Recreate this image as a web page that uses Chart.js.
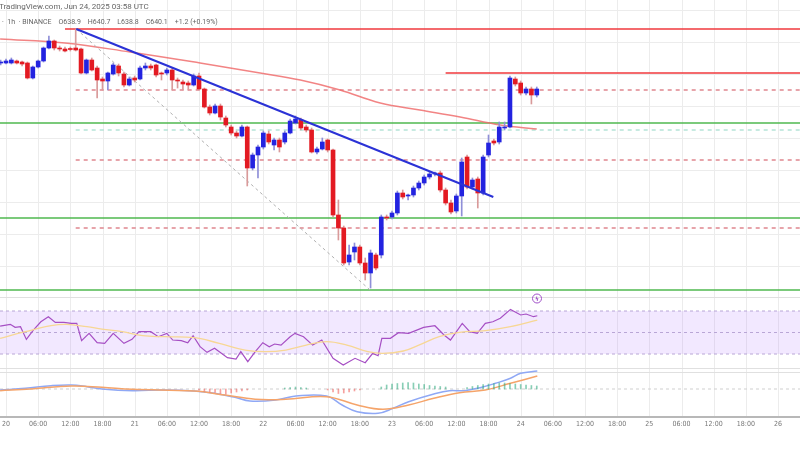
<!DOCTYPE html>
<html>
<head>
<meta charset="utf-8">
<script src="https://cdn.jsdelivr.net/npm/chart.js@4"></script>
<style>
  html, body { margin: 0; padding: 0; background: #fff; }
  #wrap { width: 800px; height: 450px; }
</style>
</head>
<body>
<div id="wrap"><canvas id="c"></canvas></div>
<script>
// hours from Jun 20 00:00 UTC, candle h = -1 .. 99
const opens = [643.7,643.7,643.7,643.9,643.8,643.7,642.2,643.3,643.9,645.2,645.9,645.2,645.1,645.1,645.2,645.1,642.7,644.0,643.2,642.1,
  641.9,642.6,643.4,642.6,641.5,642.2,642.1,643.2,643.4,643.5,642.7,642.7,643.0,642.0,641.8,641.7,641.5,642.4,641.1,639.3,
  638.7,639.4,638.2,637.3,636.7,636.4,637.3,633.2,634.5,635.3,636.6,635.5,636.0,635.8,636.7,637.7,638.0,637.3,637.0,634.8,
  635.1,636.0,635.0,628.5,627.2,623.8,624.8,625.3,623.7,622.7,624.5,624.5,628.3,628.3,628.7,630.7,630.4,630.5,631.2,631.7,
  632.3,632.6,632.7,631.0,629.7,628.9,630.4,634.3,631.3,632.1,630.7,634.5,635.9,635.8,637.2,637.3,642.1,641.7,640.7,641.1,640.5];
const closes = [643.8,643.9,644.0,643.7,643.6,642.2,643.3,643.9,645.2,645.9,645.2,645.1,644.9,645.05,645.0,642.7,644.0,643.0,642.0,641.9,
  642.7,643.5,642.7,641.5,642.1,642.0,643.2,643.4,643.2,642.5,642.6,643.0,642.0,641.9,641.6,641.5,642.4,641.1,639.3,638.7,
  639.4,638.3,637.5,636.7,636.4,637.3,633.2,634.5,635.3,636.7,635.8,636.0,635.3,636.7,637.9,638.1,637.2,637.0,634.8,635.1,
  635.8,635.0,628.5,627.2,623.7,624.5,625.3,623.7,622.7,624.7,623.2,628.3,628.2,628.7,630.7,630.3,630.4,631.2,631.7,632.3,
  632.6,632.6,631.0,629.7,628.8,630.4,633.8,631.3,632.0,630.7,634.3,635.7,635.7,637.3,637.3,642.2,641.6,640.7,641.1,640.5,641.1];
const highs = [644.0,644.1,644.2,644.0,643.9,643.8,643.4,644.0,645.3,646.4,646.0,645.4,645.3,645.3,647.1,645.2,644.1,644.2,643.4,642.3,
  642.8,643.7,643.6,642.8,642.3,642.4,643.4,643.7,643.6,643.6,642.8,643.2,643.2,642.2,642.0,641.9,642.6,642.7,641.2,639.5,
  639.6,639.6,638.4,637.5,636.9,637.5,637.4,634.7,635.5,636.9,636.9,636.2,636.2,636.9,638.1,638.4,638.2,637.5,637.2,635.3,
  636.2,636.1,635.1,630.0,627.4,625.5,625.7,625.5,624.2,625.0,624.7,628.5,628.5,628.9,630.9,631.0,630.6,631.4,631.9,632.5,
  632.8,632.8,632.9,631.2,630.0,630.6,634.2,634.5,632.2,632.3,634.5,636.5,636.1,637.8,637.8,642.4,642.3,641.9,641.3,641.3,641.3];
const lows = [643.5,643.6,643.6,643.6,643.4,642.1,642.1,643.2,643.8,645.1,645.0,644.9,644.8,644.9,644.9,642.6,642.6,642.9,640.2,641.0,
  641.0,642.5,642.4,641.3,641.4,641.8,642.0,643.0,643.0,642.3,642.0,642.5,641.0,641.2,641.0,641.0,641.4,641.0,639.2,638.5,
  638.6,638.0,637.3,636.5,636.2,636.3,631.4,633.0,632.2,635.1,635.6,635.0,634.8,635.6,636.6,637.6,637.0,636.8,634.7,634.6,
  635.0,634.8,628.3,626.0,623.5,623.5,624.0,623.5,622.0,621.2,623.0,624.2,628.0,628.1,628.5,630.1,630.0,630.3,631.0,631.5,
  632.1,632.4,630.8,629.5,628.6,628.7,628.4,631.1,631.1,629.2,630.5,634.3,635.5,635.6,637.0,637.2,641.4,640.5,640.5,639.6,640.3];

// price moving average
const maHours = [-1.1, 11, 23.1, 36.2, 47.4, 54.9, 62.3, 69.8, 77.2, 84.7, 92.2, 99];
const maValues = [646.1, 645.7, 644.8, 643.7, 642.7, 642.0, 641.0, 639.7, 639.0, 638.3, 637.5, 637.1];

// drawn levels: [fromHour, toHour, price]
const resistance = [[11, 148.1, 647.1], [82, 148.1, 642.7]];
const dashedRed = [[13, 148.1, 641.0], [13, 148.1, 634.0], [13, 148.1, 627.2]];
const support = [[-1.12, 148.1, 637.7], [-1.12, 148.1, 628.2], [-1.12, 148.1, 621.0]];
const dashedTeal = [[13, 148.1, 637.0]];
const trendLine = [[13.1, 647.1], [90.9, 630.3]];
const fibDiagonal = [[13.1, 647.1], [67.9, 621.0]];

// RSI
const rsiHours = [-1.1,0.8,1.7,2.7,3.8,5.1,6.5,7.9,9.2,10.8,12.2,13.2,14.1,15.5,17.0,18.4,20.0,22.0,23.5,24.8,
  27.0,28.4,30.0,31.1,32.7,33.9,34.9,36.2,37.5,38.9,41.3,42.9,43.8,45.1,46.5,47.9,49.1,50.1,51.3,53.0,
  53.9,55.5,57.2,58.9,61.0,62.9,65.1,67.0,68.4,69.4,70.1,71.7,73.2,75.1,77.9,80.0,81.7,82.9,85.1,86.5,
  87.9,89.4,90.8,92.2,94.1,96.0,97.0,98.4,99.1];
const rsiValues = [56.0,57.6,54.8,55.4,43.6,52.3,60.0,64.7,59.4,59.4,58.5,58.5,42.4,49.2,40.5,39.9,49.2,39.9,43.6,50.8,
  50.8,46.1,49.2,43.0,42.4,40.5,47.0,36.8,31.5,35.3,26.6,25.3,32.2,22.9,32.2,40.5,36.8,39.3,38.3,46.1,
  49.2,46.1,38.3,43.0,26.0,19.8,26.0,21.9,30.6,28.4,44.6,44.6,49.8,49.2,54.8,56.3,47.7,43.0,58.5,50.8,
  49.2,58.5,60.0,63.2,71.5,66.3,67.2,64.7,65.6];
const rsiMaHours = [-1.1,3.6,8.4,11.3,15.1,17.9,21.7,25.5,29.4,35.1,39.8,44.6,48.4,52.2,56.0,59.8,63.6,67.5,70.3,74.1,77.0,80.8,84.6,89.4,94.1,99.1];
const rsiMaValues = [44.6,50.8,56.3,57.6,55.4,53.2,50.8,47.0,46.1,45.2,39.9,33.7,32.2,33.7,38.3,41.5,38.3,32.2,30.6,32.8,38.3,46.1,50.1,51.7,55.4,61.6];

// MACD
const macdHours = [-1.1,3.6,8.4,12.2,15.1,17.9,23.6,29.4,35.1,38.9,42.7,45.5,50.3,54.1,59.8,62.7,65.5,69.4,72.2,75.1,79.8,82.7,85.5,88.4,91.3,94.1,96.0,99.1];
const macdValues = [-0.1,0.07,0.33,0.4,0.23,0.0,-0.17,-0.1,-0.2,-0.43,-0.83,-1.2,-1.1,-0.7,-0.7,-1.6,-2.27,-2.43,-1.93,-1.27,-0.5,-0.17,-0.17,0.13,0.57,1.07,1.57,1.8];
const signalHours = [-1.1,4.6,12.2,17.9,23.6,35.1,40.8,46.5,52.2,59.8,65.5,70.3,75.1,79.8,84.6,89.4,94.1,99.1];
const signalValues = [-0.17,0.0,0.3,0.17,-0.03,-0.2,-0.6,-1.03,-1.03,-0.77,-1.6,-2.03,-1.6,-0.93,-0.37,-0.1,0.57,1.3];
const histHours = [36,37,38,39,40,41,42,43,44,45, 52,53,54,55,56, 60,61,62,63,64,65,66,
  70,71,72,73,74,75,76,77,78,79,80,81,82, 86,87,88,89,90,91,92,93,94,95,96,97,98,99];
const histValues = [-0.1,-0.2,-0.3,-0.35,-0.45,-0.5,-0.4,-0.3,-0.2,-0.1, 0.1,0.15,0.2,0.15,0.1, -0.1,-0.3,-0.45,-0.4,-0.3,-0.2,-0.1,
  0.2,0.4,0.5,0.55,0.6,0.65,0.6,0.5,0.45,0.35,0.3,0.25,0.2, 0.15,0.25,0.35,0.45,0.5,0.55,0.6,0.6,0.55,0.5,0.45,0.4,0.35,0.3];

const BLUE = '#2323e0', RED = '#e31a22';
const candleHours = opens.map((_, i) => i - 1);
const up = opens.map((o, i) => closes[i] >= o);

function pts(xs, ys) { return xs.map((x, i) => ({ x: x, y: ys[i] })); }
function levelSets(list, color, dash, width) {
  return list.map(l => ({
    type: 'line', data: [{ x: l[0], y: l[2] }, { x: l[1], y: l[2] }], yAxisID: 'yp',
    borderColor: color, borderWidth: width, borderDash: dash, pointRadius: 0, order: 5
  }));
}

const decor = {
  id: 'decor',
  beforeDatasetsDraw(chart) {
    const ctx = chart.ctx, x = chart.scales.x, yp = chart.scales.yp, yr = chart.scales.yr, ym = chart.scales.ym;
    ctx.save();
    // vertical grid
    ctx.strokeStyle = '#ececec'; ctx.lineWidth = 1;
    for (let h = 0; h <= 144; h += 6) {
      const px = Math.round(x.getPixelForValue(h)) + 0.5;
      ctx.beginPath(); ctx.moveTo(px, 0); ctx.lineTo(px, 417); ctx.stroke();
    }
    // horizontal grid, main panel
    for (let p = 649; p > 621; p -= 3.2) {
      const py = Math.round(yp.getPixelForValue(p)) + 0.5;
      ctx.beginPath(); ctx.moveTo(0, py); ctx.lineTo(800, py); ctx.stroke();
    }
    // panel separators
    ctx.strokeStyle = '#e0e0e0';
    [297.5, 368.5, 372.5].forEach(py => { ctx.beginPath(); ctx.moveTo(0, py); ctx.lineTo(800, py); ctx.stroke(); });
    // RSI band
    const t70 = yr.getPixelForValue(70), t30 = yr.getPixelForValue(30);
    ctx.fillStyle = 'rgba(190,140,255,0.2)';
    ctx.fillRect(0, t70, 800, t30 - t70);
    ctx.setLineDash([3, 3]); ctx.strokeStyle = '#b9a6d6';
    [70, 50, 30].forEach(v => { const py = yr.getPixelForValue(v); ctx.beginPath(); ctx.moveTo(0, py); ctx.lineTo(800, py); ctx.stroke(); });
    // MACD zero
    ctx.strokeStyle = '#cfcfcf';
    const z = ym.getPixelForValue(0);
    ctx.beginPath(); ctx.moveTo(0, z); ctx.lineTo(800, z); ctx.stroke();
    ctx.setLineDash([]);
    // x axis
    ctx.strokeStyle = '#b8b8b8'; ctx.lineWidth = 2;
    ctx.beginPath(); ctx.moveTo(0, 417); ctx.lineTo(800, 417); ctx.stroke();
    ctx.fillStyle = '#777'; ctx.font = '7px "DejaVu Sans Condensed", Roboto, sans-serif';
    ctx.textAlign = 'center'; ctx.textBaseline = 'middle';
    const days = ['20', '21', '22', '23', '24', '25', '26'];
    for (let h = 0; h <= 144; h += 6) {
      const hr = h % 24;
      const label = hr === 0 ? days[h / 24] : String(hr).padStart(2, '0') + ':00';
      ctx.fillText(label, x.getPixelForValue(h), 424);
    }
    ctx.restore();
  },
  afterDraw(chart) {
    const ctx = chart.ctx;
    ctx.save();
    ctx.fillStyle = '#666'; ctx.textBaseline = 'middle'; ctx.textAlign = 'left';
    ctx.font = '8px Roboto, sans-serif';
    ctx.fillText('TradingView.com, Jun 24, 2025 03:58 UTC', -1, 7);
    ctx.font = '7px Roboto, sans-serif';
    ctx.fillText('·  1h  · BINANCE    O638.9    H640.7    L638.8    C640.1    +1.2 (+0.19%)', 2, 22);
    // alert icon
    ctx.strokeStyle = '#a050c8'; ctx.lineWidth = 1;
    ctx.beginPath(); ctx.arc(537, 298.5, 4.5, 0, Math.PI * 2); ctx.stroke();
    ctx.fillStyle = '#a050c8'; ctx.font = 'bold 6px DejaVu Sans';
    ctx.textAlign = 'center'; ctx.fillText('ϟ', 537, 299);
    ctx.restore();
  }
};

const datasets = [
  { type: 'bar', data: candleHours.map((h, i) => ({ x: h, y: [lows[i], highs[i]] })), yAxisID: 'yp',
    backgroundColor: up.map(u => u ? '#8f8fd8' : '#d99a9a'), barThickness: 1, grouped: false, order: 2 },
  { type: 'bar', data: candleHours.map((h, i) => ({ x: h, y: [Math.min(opens[i], closes[i]), Math.max(opens[i], closes[i])] })), yAxisID: 'yp',
    backgroundColor: up.map(u => u ? BLUE : RED), barThickness: 4, minBarLength: 1, grouped: false, order: 1 },
  { type: 'line', data: pts(maHours, maValues), yAxisID: 'yp', borderColor: 'rgba(240,110,110,0.85)', borderWidth: 1.5, tension: 0.4, pointRadius: 0, order: 4 },
  ...levelSets(resistance, '#f0393c', [], 1.5),
  ...levelSets(dashedRed, '#cf4b56', [4, 4], 1),
  ...levelSets(support, '#4fb84f', [], 1.3),
  ...levelSets(dashedTeal, '#8fd6c4', [4, 4], 1),
  { type: 'line', data: trendLine.map(p => ({ x: p[0], y: p[1] })), yAxisID: 'yp', borderColor: '#2b32d6', borderWidth: 2, pointRadius: 0, order: 0 },
  { type: 'line', data: fibDiagonal.map(p => ({ x: p[0], y: p[1] })), yAxisID: 'yp', borderColor: '#b0b0b0', borderWidth: 1, borderDash: [3, 3], pointRadius: 0, order: 3 },
  { type: 'line', data: pts(rsiMaHours, rsiMaValues), yAxisID: 'yr', borderColor: '#f7d794', borderWidth: 1.3, tension: 0.4, pointRadius: 0 },
  { type: 'line', data: pts(rsiHours, rsiValues), yAxisID: 'yr', borderColor: '#a64fc4', borderWidth: 1.2, pointRadius: 0 },
  { type: 'bar', data: pts(histHours, histValues), yAxisID: 'ym', barThickness: 1, grouped: false,
    backgroundColor: histValues.map(v => v >= 0 ? 'rgba(38,166,120,0.55)' : 'rgba(239,83,80,0.55)') },
  { type: 'line', data: pts(signalHours, signalValues), yAxisID: 'ym', borderColor: '#f5a46a', borderWidth: 1.5, tension: 0.4, pointRadius: 0 },
  { type: 'line', data: pts(macdHours, macdValues), yAxisID: 'ym', borderColor: '#8fa8f5', borderWidth: 1.5, tension: 0.4, pointRadius: 0 }
];

new Chart(document.getElementById('c'), {
  type: 'bar',
  data: { datasets: datasets },
  options: {
    responsive: true, maintainAspectRatio: false, animation: false,
    layout: { padding: { left: 0, right: 0, top: 0, bottom: 33 } },
    plugins: { legend: { display: false }, tooltip: { enabled: false } },
    scales: {
      x: { type: 'linear', min: -1.12, max: 148.1, offset: false, display: false },
      yp: { type: 'linear', min: 608.3, max: 650, display: false },
      yr: { type: 'linear', min: -28.6, max: 359.3, display: false },
      ym: { type: 'linear', min: -2.8, max: 38.9, display: false }
    }
  },
  plugins: [decor]
});
</script>
</body>
</html>
